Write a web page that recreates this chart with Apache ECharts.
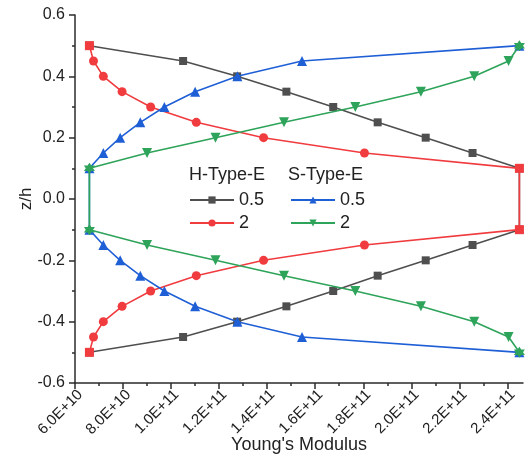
<!DOCTYPE html>
<html>
<head>
<meta charset="utf-8">
<script src="https://cdn.jsdelivr.net/npm/echarts@6/dist/echarts.min.js"></script>
<style>
  html, body { margin: 0; padding: 0; background: #fff; }
  #chart { width: 526px; height: 459px; }
</style>
</head>
<body>
<div id="chart"></div>
<script>
// Through-thickness position z/h (top half, then bottom half)
const zLevels = [0.5, 0.45, 0.4, 0.35, 0.3, 0.25, 0.2, 0.15, 0.1,
                 -0.1, -0.15, -0.2, -0.25, -0.3, -0.35, -0.4, -0.45, -0.5];

// Young's modulus (Pa) at each z/h level
const hType05 = [6.6e10, 1.05e11, 1.275e11, 1.48e11, 1.675e11, 1.86e11, 2.06e11, 2.255e11, 2.45e11,
                 2.45e11, 2.255e11, 2.06e11, 1.86e11, 1.675e11, 1.48e11, 1.275e11, 1.05e11, 6.6e10];
const hType2  = [6.6e10, 6.77e10, 7.18e10, 7.96e10, 9.15e10, 1.105e11, 1.385e11, 1.805e11, 2.45e11,
                 2.45e11, 1.805e11, 1.385e11, 1.105e11, 9.15e10, 7.96e10, 7.18e10, 6.77e10, 6.6e10];
const sType05 = [2.45e11, 1.545e11, 1.276e11, 1.1e11, 9.72e10, 8.72e10, 7.88e10, 7.18e10, 6.6e10,
                 6.6e10, 7.18e10, 7.88e10, 8.72e10, 9.72e10, 1.1e11, 1.276e11, 1.545e11, 2.45e11];
const sType2  = [2.45e11, 2.405e11, 2.262e11, 2.04e11, 1.767e11, 1.47e11, 1.185e11, 9.0e10, 6.6e10,
                 6.6e10, 9.0e10, 1.185e11, 1.47e11, 1.767e11, 2.04e11, 2.262e11, 2.405e11, 2.45e11];

// Axis tick values
const xMajorTicks = [6e10, 8e10, 1e11, 1.2e11, 1.4e11, 1.6e11, 1.8e11, 2e11, 2.2e11, 2.4e11];
const xMinorTicks = [7e10, 9e10, 1.1e11, 1.3e11, 1.5e11, 1.7e11, 1.9e11, 2.1e11, 2.3e11];

const FONT = "'Liberation Sans', Arial, sans-serif";
const AXIS_COLOR = '#2b2b2b';

const colors = {
  h05: '#4f4f4f',
  h2: '#f03b3f',
  s05: '#1f5fd6',
  s2: '#2ea35a'
};

function pairs(values) {
  return values.map((v, i) => [v, zLevels[i]]);
}

// Red end points sit on the black ones and read as squares
function redPairs(values) {
  return values.map((v, i) => {
    const z = zLevels[i];
    if (Math.abs(z) === 0.5 || Math.abs(z) === 0.1) {
      return { value: [v, z], symbol: 'rect', symbolSize: 9 };
    }
    return [v, z];
  });
}

// Green end points overlap the blue ones: draw them as a hexagram
const HEX = 'path://M0,-10L8.66,5L-8.66,5Z M0,10L-8.66,-5L8.66,-5Z';
function greenPairs(values) {
  return values.map((v, i) => {
    const z = zLevels[i];
    if (Math.abs(z) === 0.5 || Math.abs(z) === 0.1) {
      return { value: [v, z], symbol: HEX, symbolSize: 11, symbolRotate: 0 };
    }
    return [v, z];
  });
}

const chart = echarts.init(document.getElementById('chart'), null, { renderer: 'canvas' });

const xRange = { min: 6e10, max: 2.465e11 };

const legendBase = {
  orient: 'vertical',
  top: 191,
  padding: 0,
  itemWidth: 44,
  itemHeight: 9,
  itemGap: 5,
  textStyle: { fontFamily: FONT, fontSize: 18, color: '#222' },
  formatter: name => name.split(' ')[1]
};

const option = {
  backgroundColor: '#ffffff',
  animation: false,
  grid: { left: 75, right: 3, top: 15, bottom: 76, containLabel: false, outerBoundsMode: 'none' },
  xAxis: [
    {
      type: 'value',
      min: xRange.min,
      max: xRange.max,
      interval: 2e10,
      name: "Young's Modulus",
      nameLocation: 'middle',
      nameGap: 53,
      nameMoveOverlap: false,
      nameTextStyle: { fontFamily: FONT, fontSize: 18, color: '#222' },
      axisLine: { show: true, onZero: false, lineStyle: { color: AXIS_COLOR, width: 1.5 } },
      axisTick: { show: true, inside: false, length: 6, customValues: xMajorTicks,
                  lineStyle: { color: AXIS_COLOR, width: 1.5 } },
      axisLabel: {
        customValues: xMajorTicks,
        rotate: 45,
        margin: 4,
        verticalAlign: 'top',
        fontFamily: FONT,
        fontSize: 15,
        color: '#222',
        formatter: v => v.toExponential(1).toUpperCase()
      },
      splitLine: { show: false }
    },
    {
      // minor ticks only
      type: 'value',
      position: 'bottom',
      min: xRange.min,
      max: xRange.max,
      interval: 2e10,
      axisLine: { show: false, onZero: false },
      axisTick: { show: true, length: 3, customValues: xMinorTicks,
                  lineStyle: { color: AXIS_COLOR, width: 1.5 } },
      axisLabel: { show: false },
      splitLine: { show: false }
    }
  ],
  yAxis: {
    type: 'value',
    min: -0.6,
    max: 0.6,
    interval: 0.2,
    name: 'z/h',
    nameLocation: 'middle',
    nameGap: 40,
    nameMoveOverlap: false,
    nameTextStyle: { fontFamily: FONT, fontSize: 17, color: '#222' },
    axisLine: { show: true, onZero: false, lineStyle: { color: AXIS_COLOR, width: 1.5 } },
    axisTick: { show: true, length: 6, lineStyle: { color: AXIS_COLOR, width: 1.5 } },
    minorTick: { show: true, splitNumber: 2, length: 3, lineStyle: { color: AXIS_COLOR, width: 1.5 } },
    axisLabel: {
      margin: 10,
      fontFamily: FONT,
      fontSize: 16,
      color: '#222',
      formatter: v => v.toFixed(1)
    },
    splitLine: { show: false }
  },
  legend: [
    Object.assign({}, legendBase, { data: ['H-Type-E 0.5', 'H-Type-E 2'], left: 189 }),
    Object.assign({}, legendBase, { data: ['S-Type-E 0.5', 'S-Type-E 2'], left: 290 })
  ],
  graphic: [
    { type: 'text', left: 189, top: 166,
      style: { text: 'H-Type-E', fontFamily: FONT, fontSize: 18, fill: '#222' } },
    { type: 'text', left: 288, top: 166,
      style: { text: 'S-Type-E', fontFamily: FONT, fontSize: 18, fill: '#222' } }
  ],
  series: [
    {
      name: 'H-Type-E 0.5',
      type: 'line',
      data: pairs(hType05),
      symbol: 'rect',
      symbolSize: 8,
      itemStyle: { color: colors.h05 },
      lineStyle: { color: colors.h05, width: 1.6 },
      z: 2
    },
    {
      name: 'H-Type-E 2',
      type: 'line',
      data: redPairs(hType2),
      symbol: 'circle',
      symbolSize: 9,
      itemStyle: { color: colors.h2 },
      lineStyle: { color: colors.h2, width: 1.6 },
      z: 3
    },
    {
      name: 'S-Type-E 0.5',
      type: 'line',
      data: pairs(sType05),
      symbol: 'triangle',
      symbolSize: 10,
      itemStyle: { color: colors.s05 },
      lineStyle: { color: colors.s05, width: 1.6 },
      z: 4
    },
    {
      name: 'S-Type-E 2',
      type: 'line',
      data: greenPairs(sType2),
      symbol: 'triangle',
      symbolRotate: 180,
      symbolSize: 10,
      itemStyle: { color: colors.s2 },
      lineStyle: { color: colors.s2, width: 1.6 },
      z: 5
    }
  ]
};

chart.setOption(option);
</script>
</body>
</html>
